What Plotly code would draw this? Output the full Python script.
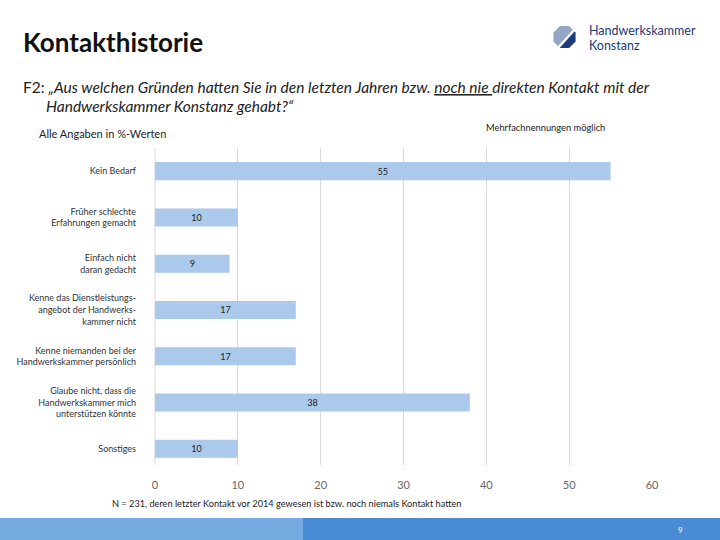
import math
import plotly.graph_objects as go

categories = [
    "Kein Bedarf",
    "Früher schlechte<br>Erfahrungen gemacht",
    "Einfach nicht<br>daran gedacht",
    "Kenne das Dienstleistungs-<br>angebot der Handwerks-<br>kammer nicht",
    "Kenne niemanden bei der<br>Handwerkskammer persönlich",
    "Glaube nicht, dass die<br>Handwerkskammer mich<br>unterstützen könnte",
    "Sonstiges",
]
values = [55, 10, 9, 17, 17, 38, 10]
x_ticks = [0, 10, 20, 30, 40, 50, 60]

W, H = 720, 540
L, R, T, B = 155, 652, 148, 465
FONT = "Lato, 'Open Sans', sans-serif"


def px(x):
    return (x - L) / (R - L)


def py(y):
    return (B - y) / (B - T)


fig = go.Figure(
    go.Bar(
        x=values,
        y=categories,
        orientation="h",
        marker=dict(color="#abc9ea", line=dict(width=0)),
        width=0.39,
        text=[str(v) for v in values],
        textposition="inside",
        insidetextanchor="middle",
        textfont=dict(size=9, color="#222222", family=FONT),
        hoverinfo="skip",
    )
)

fig.update_layout(
    width=W,
    height=H,
    margin=dict(l=L, r=W - R, t=T, b=H - B),
    paper_bgcolor="white",
    plot_bgcolor="white",
    showlegend=False,
    font=dict(family=FONT, color="#333333"),
    xaxis=dict(
        range=[0, 60],
        tickvals=x_ticks,
        ticktext=[str(t) for t in x_ticks],
        showgrid=True,
        gridcolor="#d9d9d9",
        gridwidth=1,
        zeroline=False,
        showline=False,
        ticks="",
        tickfont=dict(size=11, color="#666666", family=FONT),
        ticklabelstandoff=12,
        fixedrange=True,
    ),
    yaxis=dict(
        range=[6.35, -0.5],
        showgrid=False,
        zeroline=False,
        showline=False,
        ticks="",
        tickfont=dict(size=9, color="#333333", family=FONT),
        ticklabelstandoff=18,
        fixedrange=True,
    ),
)

# left vertical line at 0
shapes = [
    dict(type="line", xref="paper", yref="paper", x0=0, x1=0, y0=0, y1=1,
         line=dict(color="#d9d9d9", width=1), layer="below"),
]

# bottom band
shapes.append(dict(type="rect", xref="paper", yref="paper",
                   x0=px(0), x1=px(303), y0=py(540), y1=py(518),
                   fillcolor="#74abe0", line=dict(width=0)))
shapes.append(dict(type="rect", xref="paper", yref="paper",
                   x0=px(303), x1=px(720), y0=py(540), y1=py(518),
                   fillcolor="#4a8bd6", line=dict(width=0)))

# logo octagon
cx, cy, r = 564.5, 37, 12
octo = [(cx + r * math.cos(math.radians(22.5 + 45 * k)),
         cy + r * math.sin(math.radians(22.5 + 45 * k))) for k in range(8)]


def clip(poly, a, b, keep_left):
    def side(p):
        return (b[0] - a[0]) * (p[1] - a[1]) - (b[1] - a[1]) * (p[0] - a[0])
    out = []
    n = len(poly)
    for i in range(n):
        p, q = poly[i], poly[(i + 1) % n]
        sp, sq = side(p), side(q)
        inp = (sp >= 0) if keep_left else (sp <= 0)
        inq = (sq >= 0) if keep_left else (sq <= 0)
        if inp:
            out.append(p)
        if inp != inq:
            t = sp / (sp - sq)
            out.append((p[0] + t * (q[0] - p[0]), p[1] + t * (q[1] - p[1])))
    return out


def path(poly):
    s = "M " + " L ".join(f"{px(x):.5f},{py(y):.5f}" for x, y in poly) + " Z"
    return s


a, b = (577, 27), (558, 48)
upper_left = clip(octo, a, b, True)
lower_right = clip(octo, a, b, False)
shapes.append(dict(type="path", xref="paper", yref="paper", path=path(upper_left),
                   fillcolor="#93a6c6", line=dict(width=0)))
shapes.append(dict(type="path", xref="paper", yref="paper", path=path(lower_right),
                   fillcolor="#1d3b7a", line=dict(width=0)))
shapes.append(dict(type="line", xref="paper", yref="paper",
                   x0=px(a[0]), y0=py(a[1]), x1=px(b[0]), y1=py(b[1]),
                   line=dict(color="white", width=2.5)))

annotations = [
    dict(text="<b>Kontakthistorie</b>", x=px(21), y=py(42), xanchor="left", yanchor="middle",
         font=dict(size=26, color="#111111", family=FONT)),
    dict(text="F2: <i>„Aus welchen Gründen hatten Sie in den letzten Jahren bzw. <u>noch nie </u>direkten Kontakt mit der</i>",
         x=px(21), y=py(87), xanchor="left", yanchor="middle",
         font=dict(size=15.5, color="#222222", family=FONT)),
    dict(text="<i>Handwerkskammer Konstanz gehabt?“</i>",
         x=px(44), y=py(106), xanchor="left", yanchor="middle",
         font=dict(size=15.5, color="#222222", family=FONT)),
    dict(text="Alle Angaben in %-Werten", x=px(37), y=py(133), xanchor="left", yanchor="middle",
         font=dict(size=11, color="#222222", family=FONT)),
    dict(text="Mehrfachnennungen möglich", x=px(484), y=py(128), xanchor="left", yanchor="middle",
         font=dict(size=9.3, color="#222222", family=FONT)),
    dict(text="N = 231, deren letzter Kontakt vor 2014 gewesen ist bzw. noch niemals Kontakt hatten",
         x=px(110), y=py(504), xanchor="left", yanchor="middle",
         font=dict(size=9.2, color="#222222", family=FONT)),
    dict(text="9", x=px(680), y=py(530), xanchor="center", yanchor="middle",
         font=dict(size=8, color="white", family=FONT)),
    dict(text="Handwerkskammer", x=px(587), y=py(30), xanchor="left", yanchor="middle",
         font=dict(size=12.5, color="#1d3b7a", family=FONT)),
    dict(text="Konstanz", x=px(587), y=py(45), xanchor="left", yanchor="middle",
         font=dict(size=12.5, color="#1d3b7a", family=FONT)),
]
for an in annotations:
    an.update(xref="paper", yref="paper", showarrow=False)

fig.update_layout(shapes=shapes, annotations=annotations)
fig.write_html(
    "out.html",
    config={"displayModeBar": False},
    post_script="document.body.style.margin='0';document.body.style.overflow='hidden';",
)
